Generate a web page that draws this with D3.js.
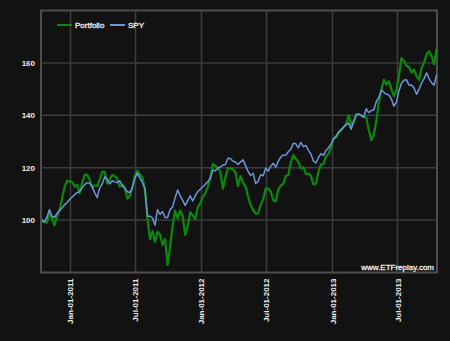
<!DOCTYPE html>
<html>
<head>
<meta charset="utf-8">
<script src="https://cdn.jsdelivr.net/npm/d3@7/dist/d3.min.js"></script>
<style>
  html, body { margin: 0; padding: 0; background: #121212; }
  svg { display: block; }
  text { font-family: "Liberation Sans", Arial, sans-serif; }
</style>
</head>
<body>
<svg id="chart" width="450" height="341"></svg>
<script>
// Weekly closes, both series normalised to 100 at the start date
const startDate = new Date(2010, 9, 15);

const portfolio = [
  99.5, 99.3, 99.0, 103.0, 100.8, 98.0, 101.3, 103.8, 108.0, 112.7,
  115.0, 114.8, 114.6, 112.8, 113.5, 110.3, 114.0, 117.3, 117.4, 115.4,
  112.4, 113.3, 113.0, 115.5, 118.4, 118.4, 114.0, 115.5, 117.2, 116.8,
  115.8, 112.7, 113.5, 112.4, 108.2, 109.3, 112.6, 117.0, 118.8, 117.4,
  116.2, 111.6, 100.2, 92.8, 95.8, 91.6, 95.6, 94.4, 90.5, 92.8,
  82.9, 90.0, 97.8, 103.6, 100.6, 103.6, 101.6, 94.3, 97.7, 103.0,
  101.8, 100.3, 105.0, 106.5, 108.9, 110.3, 112.6, 116.2, 121.5, 120.7,
  120.0, 118.3, 112.0, 116.4, 119.8, 119.8, 119.3, 118.2, 113.0, 116.8,
  114.2, 112.8, 109.0, 105.8, 103.9, 102.5, 102.6, 105.8, 107.9, 112.0,
  112.1, 111.0, 107.6, 107.2, 111.6, 113.2, 113.8, 116.8, 117.2, 122.0,
  124.8, 123.4, 122.2, 119.7, 120.2, 117.5, 117.8, 116.8, 113.6, 114.0,
  118.4, 121.3, 121.4, 124.3, 125.3, 127.8, 131.2, 131.5, 133.3, 134.2,
  135.6, 136.6, 140.0, 136.3, 137.5, 140.5, 140.4, 139.9, 139.3, 139.2,
  134.5, 130.5, 132.6, 137.8, 144.8, 149.6, 153.5, 151.8, 153.0, 150.0,
  147.3, 149.5, 155.0, 161.8, 160.8, 158.8, 158.4, 156.3, 157.4, 155.0,
  153.5, 158.0, 160.3, 163.2, 164.5, 162.5, 159.5, 165.5
];

const spy = [
  100.0, 99.3, 101.0, 104.0, 101.5, 101.0, 102.5, 103.6, 104.6, 105.8,
  106.7, 107.8, 108.7, 109.7, 110.5, 110.9, 112.3, 113.5, 114.3, 114.1,
  112.8, 110.5, 108.6, 112.2, 113.8, 116.5, 115.5, 113.8, 115.0, 114.6,
  114.3, 115.0, 113.2, 112.0, 110.8, 110.5, 112.3, 116.0, 117.9, 116.0,
  114.4, 112.0, 101.5, 101.5, 100.8, 98.0, 104.0, 102.2, 103.3, 101.0,
  101.0, 104.0, 105.0, 108.5, 111.5, 109.3, 107.5, 105.6, 107.4, 109.3,
  107.3, 109.3, 110.9, 111.8, 112.7, 113.7, 114.7, 116.0, 119.0, 118.8,
  119.8, 120.3, 121.0, 121.2, 123.6, 123.5, 122.5, 122.2, 121.2, 122.2,
  123.0, 120.8, 118.6, 117.0, 117.9, 114.0, 114.8, 117.3, 116.9, 119.8,
  118.7, 120.5, 121.7, 120.2, 122.4, 124.0, 124.9, 124.7, 126.1, 127.0,
  129.3, 129.1, 127.6, 129.7, 128.0, 128.5, 126.6, 125.2, 122.6, 121.8,
  123.9, 125.4, 124.7, 126.6, 127.6, 129.0, 131.0, 132.0, 133.6, 134.6,
  135.4, 136.5, 137.0, 134.7, 137.6, 140.0, 140.5, 140.0, 139.3, 142.5,
  141.0, 141.8, 142.0, 145.2, 146.8, 149.6, 148.8, 148.0, 147.8, 146.2,
  143.5, 145.0, 149.3, 152.2, 153.4, 153.6, 151.5, 151.6, 150.4, 148.0,
  150.0, 152.3, 154.0, 156.2, 154.0, 152.4, 151.5, 155.5
];

const seriesNames = ["Portfolio", "SPY"];
const seriesColors = ["#0a8a0a", "#6a96dc"];
const yTickValues = [100, 120, 140, 160];
const watermark = "www.ETFreplay.com";

const dates = portfolio.map((_, i) => d3.timeDay.offset(startDate, 7 * i));

const svg = d3.select("#chart");
const plotLeft = 41, plotRight = 437, plotTop = 10.5, plotBottom = 272.5;
const textColor = "#ececec";

const x = d3.scaleTime()
  .domain([new Date(2010, 9, 14), new Date(2013, 9, 19)])
  .range([plotLeft + 0.5, plotRight]);
const y = d3.scaleLinear().domain([80, 180]).range([plotBottom, plotTop]);

// grid
const xTicks = x.ticks(d3.timeMonth.every(6));
svg.append("g").selectAll("line").data(xTicks).join("line")
  .attr("x1", d => Math.round(x(d)) + 0.5).attr("x2", d => Math.round(x(d)) + 0.5)
  .attr("y1", plotTop).attr("y2", plotBottom)
  .attr("stroke", "#3c3c3c").attr("stroke-width", 1.5);
svg.append("g").selectAll("line").data(yTickValues).join("line")
  .attr("x1", plotLeft).attr("x2", plotRight)
  .attr("y1", d => y(d)).attr("y2", d => y(d))
  .attr("stroke", "#3c3c3c").attr("stroke-width", 1.5);

// frame
svg.append("rect")
  .attr("x", plotLeft).attr("y", plotTop)
  .attr("width", plotRight - plotLeft).attr("height", plotBottom - plotTop)
  .attr("fill", "none").attr("stroke", "#4d4d4d").attr("stroke-width", 2);

// y axis labels
const yAxis = d3.axisLeft(y).tickValues(yTickValues).tickSize(0).tickPadding(6);
const gy = svg.append("g").attr("transform", `translate(${plotLeft},0)`).call(yAxis);
gy.select(".domain").remove();
gy.selectAll("text")
  .attr("fill", textColor).attr("font-size", 8).attr("font-weight", "bold")
  .attr("font-family", "Liberation Sans, Arial, sans-serif");

// x axis labels (rotated)
const xAxis = d3.axisBottom(x).tickValues(xTicks)
  .tickFormat(d3.timeFormat("%b-%d-%Y")).tickSize(0);
const gx = svg.append("g").attr("transform", `translate(0,${plotBottom})`).call(xAxis);
gx.select(".domain").remove();
gx.selectAll("text")
  .attr("fill", textColor).attr("font-size", 8).attr("font-weight", "bold")
  .attr("font-family", "Liberation Sans, Arial, sans-serif")
  .attr("text-anchor", "end")
  .attr("dy", "0.32em")
  .attr("transform", "translate(0,6) rotate(-90)")
  .attr("x", 0).attr("y", 0);

// lines
const line = d3.line().x((d, i) => x(dates[i])).y(d => y(d));
const seriesData = [portfolio, spy];
const widths = [2.2, 1.5];
seriesData.forEach((s, k) => {
  svg.append("path").datum(s)
    .attr("d", line)
    .attr("fill", "none")
    .attr("stroke", seriesColors[k])
    .attr("stroke-width", widths[k])
    .attr("stroke-linejoin", "round");
});

// legend
const legend = svg.append("g").attr("transform", "translate(57,25)");
const offsets = [0, 53];
seriesNames.forEach((name, k) => {
  const g = legend.append("g").attr("transform", `translate(${offsets[k]},0)`);
  g.append("line").attr("x1", 0).attr("x2", 15).attr("y1", 0).attr("y2", 0)
    .attr("stroke", seriesColors[k]).attr("stroke-width", 2);
  g.append("text").attr("x", 18).attr("y", 3)
    .attr("fill", textColor).attr("font-size", 8)
    .attr("stroke", textColor).attr("stroke-width", 0.3)
    .text(name);
});

// watermark
svg.append("text")
  .attr("x", plotRight - 3).attr("y", plotBottom - 3)
  .attr("text-anchor", "end")
  .attr("fill", textColor).attr("font-size", 8)
  .attr("stroke", textColor).attr("stroke-width", 0.3)
  .text(watermark);
</script>
</body>
</html>
